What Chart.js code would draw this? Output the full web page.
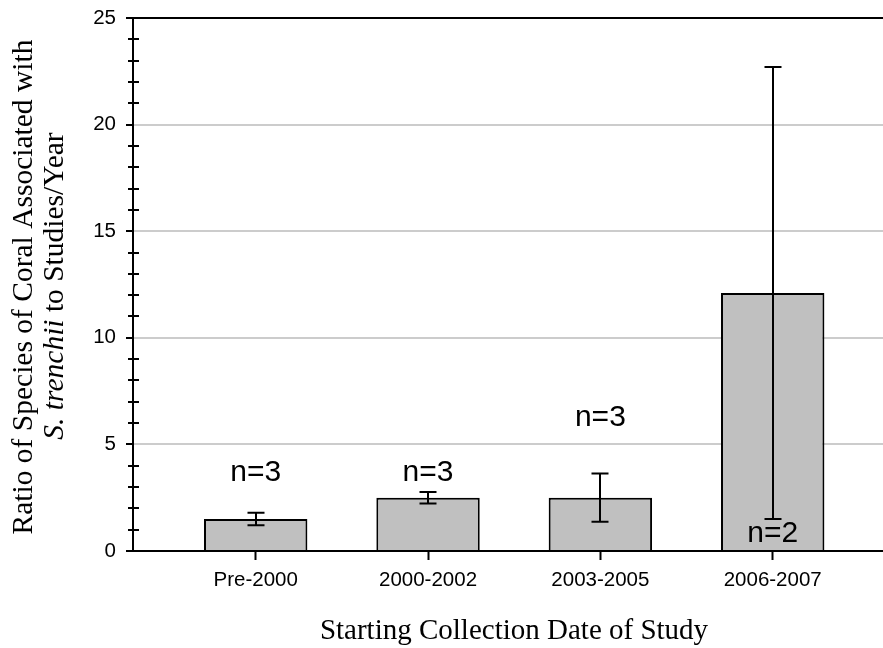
<!DOCTYPE html>
<html>
<head>
<meta charset="utf-8">
<script src="https://cdn.jsdelivr.net/npm/chart.js@4/dist/chart.umd.min.js"></script>
<style>
html,body{margin:0;padding:0;background:#fff;}
canvas{display:block;}
</style>
</head>
<body>
<canvas id="c" width="883" height="648"></canvas>
<script>
// ---- data ----
const categories = ['Pre-2000', '2000-2002', '2003-2005', '2006-2007'];
const ratioMeans = [1.5, 2.5, 2.5, 12.1];
const ratioErrors = [0.29, 0.27, 1.13, 10.6];
const sampleLabels = ['n=3', 'n=3', 'n=3', 'n=2'];
const sampleLabelY = [3.65, 3.65, 6.25, 0.8];
const yTicks = [0, 5, 10, 15, 20, 25];
const xTitle = 'Starting Collection Date of Study';
const yTitleLine1 = 'Ratio of Species of Coral Associated with';
const yTitleLine2Italic = 'S. trenchii';
const yTitleLine2Rest = ' to Studies/Year';

const positions = categories.map((c, i) => i + 1);
const barData = positions.map((x, i) => ({x: x, y: ratioMeans[i]}));

const SANS = '"Liberation Sans", Arial, sans-serif';
const SERIF = '"Liberation Serif", "Times New Roman", serif';

const extrasPlugin = {
  id: 'extras',
  beforeDatasetsDraw(chart) {
    const ctx = chart.ctx;
    const y = chart.scales.y;
    const ax = chart.chartArea.left;
    ctx.save();
    ctx.strokeStyle = '#000';
    ctx.lineWidth = 2;
    for (let v = 1; v < 25; v++) {
      if (v % 5 === 0) continue;
      const py = Math.round(y.getPixelForValue(v));
      ctx.beginPath();
      ctx.moveTo(ax - 5, py);
      ctx.lineTo(ax + 6, py);
      ctx.stroke();
    }
    ctx.restore();
  },
  afterDatasetsDraw(chart) {
    const ctx = chart.ctx;
    const xs = chart.scales.x, ys = chart.scales.y;
    ctx.save();
    ctx.strokeStyle = '#000';
    ctx.lineWidth = 2;
    positions.forEach((p, i) => {
      const px = Math.round(xs.getPixelForValue(p));
      const top = ys.getPixelForValue(ratioMeans[i] + ratioErrors[i]);
      const bot = ys.getPixelForValue(ratioMeans[i] - ratioErrors[i]);
      ctx.beginPath();
      ctx.moveTo(px, top); ctx.lineTo(px, bot);
      ctx.moveTo(px - 8.5, top); ctx.lineTo(px + 8.5, top);
      ctx.moveTo(px - 8.5, bot); ctx.lineTo(px + 8.5, bot);
      ctx.stroke();
    });
    // n labels
    ctx.fillStyle = '#000';
    ctx.font = '30px ' + SANS;
    ctx.textAlign = 'center';
    ctx.textBaseline = 'middle';
    positions.forEach((p, i) => {
      ctx.fillText(sampleLabels[i], xs.getPixelForValue(p), ys.getPixelForValue(sampleLabelY[i]));
    });
    // x title
    ctx.font = '29px ' + SERIF;
    ctx.textBaseline = 'alphabetic';
    ctx.fillText(xTitle, 514, 639);
    // y title
    ctx.save();
    ctx.translate(32, 287);
    ctx.rotate(-Math.PI / 2);
    ctx.textAlign = 'center';
    ctx.font = '29.5px ' + SERIF;
    ctx.fillText(yTitleLine1, 0, 0);
    ctx.restore();
    ctx.save();
    ctx.translate(63, 286);
    ctx.rotate(-Math.PI / 2);
    ctx.textAlign = 'left';
    ctx.font = 'italic 29.5px ' + SERIF;
    const w1 = ctx.measureText(yTitleLine2Italic).width;
    ctx.font = '29.5px ' + SERIF;
    const w2 = ctx.measureText(yTitleLine2Rest).width;
    const start = -(w1 + w2) / 2;
    ctx.font = 'italic 29.5px ' + SERIF;
    ctx.fillText(yTitleLine2Italic, start, 0);
    ctx.font = '29.5px ' + SERIF;
    ctx.fillText(yTitleLine2Rest, start + w1, 0);
    ctx.restore();
    ctx.restore();
  }
};

new Chart(document.getElementById('c'), {
  type: 'bar',
  data: {
    datasets: [{
      data: barData,
      backgroundColor: '#c0c0c0',
      borderColor: '#000',
      borderWidth: 2,
      categoryPercentage: 1,
      barPercentage: 0.6
    }]
  },
  options: {
    responsive: false,
    animation: false,
    devicePixelRatio: 1,
    layout: {padding: {top: 18, left: 0, right: 0, bottom: 0}},
    plugins: {legend: {display: false}, tooltip: {enabled: false}},
    scales: {
      x: {
        type: 'linear',
        offset: false,
        min: 0.288,
        max: 4.64,
        afterFit(s) { s.height = 97; s.paddingLeft = 0; s.paddingRight = 0; },
        afterBuildTicks(s) { s.ticks = positions.map(v => ({value: v})); },
        grid: {offset: false, drawOnChartArea: false, tickLength: 9, tickColor: '#000', tickWidth: 2},
        border: {color: '#000', width: 2},
        ticks: {
          autoSkip: false,
          maxRotation: 0,
          padding: 8,
          color: '#000',
          font: {family: SANS, size: 20.5},
          callback: v => categories[v - 1] || ''
        }
      },
      y: {
        min: 0,
        max: 25,
        afterFit(s) { s.width = 133; s.paddingTop = 0; s.paddingBottom = 0; },
        afterBuildTicks(s) { s.ticks = yTicks.map(v => ({value: v})); },
        grid: {
          color: c => (c.tick && (c.tick.value === 0 || c.tick.value === 25)) ? '#000' : '#cccccc',
          lineWidth: 2,
          tickLength: 7,
          tickColor: '#000',
          tickWidth: 2
        },
        border: {color: '#000', width: 2},
        ticks: {
          padding: 10,
          color: '#000',
          font: {family: SANS, size: 20.5}
        }
      }
    }
  },
  plugins: [extrasPlugin]
});
</script>
</body>
</html>
